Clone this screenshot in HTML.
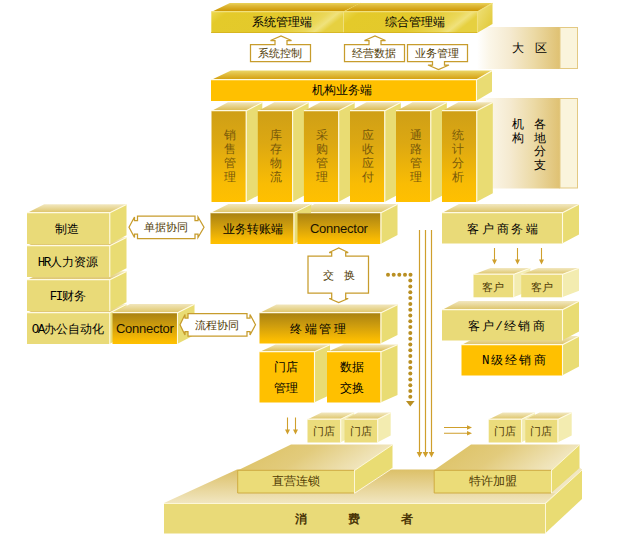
<!DOCTYPE html>
<html><head><meta charset="utf-8"><title>diagram</title>
<style>
html,body{margin:0;padding:0;background:#fff;}
body{width:641px;height:536px;overflow:hidden;font-family:"Liberation Sans",sans-serif;}
svg{display:block;font-family:"Liberation Sans",sans-serif;}
</style></head><body>
<svg width="641" height="536" viewBox="0 0 641 536">
<defs>
<linearGradient id="gBand" x1="0" x2="1" y1="0" y2="0"><stop offset="0" stop-color="#ffffff"/><stop offset="0.15" stop-color="#fbf6e8"/><stop offset="0.4" stop-color="#f5ead0"/><stop offset="0.68" stop-color="#ecdaa6"/><stop offset="1" stop-color="#dfc172"/></linearGradient>
<linearGradient id="gY" x1="0" x2="1" y1="0" y2="0.2"><stop offset="0" stop-color="#ecd84e"/><stop offset="0.12" stop-color="#e4ca2a"/><stop offset="0.62" stop-color="#e3c92c"/><stop offset="0.86" stop-color="#ebd85a"/><stop offset="0.93" stop-color="#f0e27c"/><stop offset="1" stop-color="#e6d040"/></linearGradient>
<linearGradient id="gYS" x1="0" x2="1" y1="0" y2="1"><stop offset="0" stop-color="#efe27e"/><stop offset="1" stop-color="#e0c630"/></linearGradient>
<linearGradient id="gTopGold" x1="0" x2="0" y1="0" y2="1"><stop offset="0" stop-color="#ead45a"/><stop offset="0.3" stop-color="#dfb93a"/><stop offset="0.85" stop-color="#cf9a08"/><stop offset="1" stop-color="#e8c840"/></linearGradient>
<linearGradient id="gTopGold2" x1="0" x2="0" y1="0" y2="1"><stop offset="0" stop-color="#ecd766"/><stop offset="0.35" stop-color="#e2c044"/><stop offset="0.85" stop-color="#d6a416"/><stop offset="1" stop-color="#f2cc40"/></linearGradient>
<linearGradient id="gCol" x1="0" x2="0" y1="0" y2="1"><stop offset="0" stop-color="#cf9f16"/><stop offset="0.35" stop-color="#dca812"/><stop offset="0.8" stop-color="#f9bc04"/><stop offset="1" stop-color="#ffc000"/></linearGradient>
<linearGradient id="gF" x1="0" x2="0" y1="0" y2="1"><stop offset="0" stop-color="#a98211"/><stop offset="0.4" stop-color="#cd9c0e"/><stop offset="0.85" stop-color="#f8ba02"/><stop offset="1" stop-color="#ffc000"/></linearGradient>
<linearGradient id="gT" x1="0" x2="0" y1="0" y2="1"><stop offset="0" stop-color="#f1e6bc"/><stop offset="1" stop-color="#d9b84c"/></linearGradient>
<linearGradient id="gTL" x1="0" x2="0" y1="0" y2="1"><stop offset="0" stop-color="#f1e6bc"/><stop offset="1" stop-color="#dec465"/></linearGradient>
<linearGradient id="gTP" x1="0" x2="0" y1="0" y2="1"><stop offset="0" stop-color="#f2e8c0"/><stop offset="1" stop-color="#dcc264"/></linearGradient>
<linearGradient id="gPlat" x1="0" x2="0" y1="0" y2="1"><stop offset="0" stop-color="#dcc068"/><stop offset="1" stop-color="#f1e6c0"/></linearGradient>
<linearGradient id="gPT" x1="0" x2="1" y1="0" y2="0.25"><stop offset="0" stop-color="#dcc060"/><stop offset="0.5" stop-color="#e2cb7c"/><stop offset="1" stop-color="#f2e8c4"/></linearGradient>
</defs>
<rect x="477" y="27" width="83" height="42" fill="url(#gBand)"/>
<rect x="560" y="27.5" width="17.5" height="41" fill="#faf4dc" stroke="#e3c983" stroke-width="1"/>
<rect x="477" y="98" width="83" height="90.5" fill="url(#gBand)"/>
<rect x="560" y="98.5" width="17.5" height="89.5" fill="#faf4dc" stroke="#e3c983" stroke-width="1"/>
<text y="51.8" font-size="12" fill="#000" text-anchor="middle" font-weight="500"><tspan x="517.8">大</tspan></text>
<text y="51.8" font-size="12" fill="#000" text-anchor="middle" font-weight="500"><tspan x="540.5">区</tspan></text>
<text y="128.4" font-size="12" fill="#000" text-anchor="middle" font-weight="500"><tspan x="518.4">机</tspan></text>
<text y="141.8" font-size="12" fill="#000" text-anchor="middle" font-weight="500"><tspan x="518.4">构</tspan></text>
<text y="128.4" font-size="12" fill="#000" text-anchor="middle" font-weight="500"><tspan x="539.5">各</tspan></text>
<text y="141.9" font-size="12" fill="#000" text-anchor="middle" font-weight="500"><tspan x="539.5">地</tspan></text>
<text y="155.4" font-size="12" fill="#000" text-anchor="middle" font-weight="500"><tspan x="539.5">分</tspan></text>
<text y="168.9" font-size="12" fill="#000" text-anchor="middle" font-weight="500"><tspan x="539.5">支</tspan></text>
<polygon points="211.3,12.0 229.8,3.0 361.0,3.0 343.5,12.0" fill="url(#gTopGold)"/>
<polygon points="343.5,12.0 361.0,3.0 361.0,24.0 343.5,33.0" fill="url(#gYS)"/>
<rect x="211.3" y="12" width="132.2" height="21" fill="url(#gY)"/>
<path d="M211.3 11.6H344.0M344.0 11.5V33M344.0 11.7L361.0 3.3" stroke="#f1e07c" stroke-width="1.1" fill="none"/>
<polygon points="344.0,12.0 360.0,3.0 492.5,3.0 477.0,12.0" fill="url(#gTopGold)"/>
<polygon points="477.0,12.0 492.5,3.0 492.5,24.0 477.0,33.0" fill="url(#gYS)"/>
<rect x="344" y="12" width="133" height="21" fill="url(#gY)"/>
<path d="M344 11.6H477.5M477.5 11.5V33M477.5 11.7L492.5 3.3" stroke="#f1e07c" stroke-width="1.1" fill="none"/>
<path d="M211 32.5H477" stroke="#d2ae1c" stroke-width="1" opacity="0.7"/>
<text y="25.9" font-size="12" fill="#000" text-anchor="middle" font-weight="500"><tspan x="257.5 269.5 281.5 293.5 305.5">系统管理端</tspan></text>
<text y="25.9" font-size="12" fill="#000" text-anchor="middle" font-weight="500"><tspan x="390.7 402.7 414.7 426.7 438.7">综合管理端</tspan></text>
<path d="M250.5 44.5H275V40.5H270.5L281 36L291.5 40.5H287V44.5H310.5V61.5H250.5Z" fill="#fff" stroke="#c79c2c" stroke-width="1.25"/>
<path d="M344.5 44.5H369V40.5H364.5L375 36L385.5 40.5H381V44.5H404.5V61.5H344.5Z" fill="#fff" stroke="#c79c2c" stroke-width="1.25"/>
<path d="M407.5 44.5H467.5V61.5H444.5V65H449.0L438.5 69.5L428.0 65H432.5V61.5H407.5Z" fill="#fff" stroke="#c79c2c" stroke-width="1.25"/>
<text y="57.1" font-size="11" fill="#4f3a04" text-anchor="middle" font-weight="500"><tspan x="263.1 274.1 285.1 296.1">系统控制</tspan></text>
<text y="57.1" font-size="11" fill="#4f3a04" text-anchor="middle" font-weight="500"><tspan x="357.1 368.1 379.1 390.1">经营数据</tspan></text>
<text y="57.1" font-size="11" fill="#4f3a04" text-anchor="middle" font-weight="500"><tspan x="420.1 431.1 442.1 453.1">业务管理</tspan></text>
<polygon points="211.0,80.0 231.0,70.5 492.0,70.5 476.0,80.0" fill="url(#gTopGold2)"/>
<polygon points="476.0,80.0 492.0,70.5 492.0,91.5 476.0,101.0" fill="#e9dc73"/>
<rect x="211" y="80" width="265" height="21" fill="#ffc000"/>
<path d="M211 79.6H476.5M476.5 79.5V101M476.5 79.7L492 70.8" stroke="#fffae2" stroke-width="1.1" fill="none"/>
<text y="94.0" font-size="12" fill="#000" text-anchor="middle" font-weight="500"><tspan x="317.5 329.5 341.5 353.5 365.5">机构业务端</tspan></text>
<polygon points="211.5,111.0 228.0,102.2 262.3,102.2 245.8,111.0" fill="url(#gT)"/>
<polygon points="245.8,111.0 262.3,102.2 262.3,193.2 245.8,202.0" fill="#e9dc73"/>
<rect x="211.5" y="111" width="34.30000000000001" height="91" fill="url(#gCol)"/>
<path d="M211.5 110.6H246.3M246.3 110.5V202M246.3 110.7L262.3 102.5" stroke="#fffae2" stroke-width="1.1" fill="none"/>
<text y="139.1" font-size="12" fill="#78590a" text-anchor="middle" font-weight="500"><tspan x="229.6">销</tspan></text>
<text y="153.2" font-size="12" fill="#78590a" text-anchor="middle" font-weight="500"><tspan x="229.6">售</tspan></text>
<text y="167.2" font-size="12" fill="#78590a" text-anchor="middle" font-weight="500"><tspan x="229.6">管</tspan></text>
<text y="181.4" font-size="12" fill="#78590a" text-anchor="middle" font-weight="500"><tspan x="229.6">理</tspan></text>
<polygon points="257.8,111.0 274.3,102.2 308.6,102.2 292.1,111.0" fill="url(#gT)"/>
<polygon points="292.1,111.0 308.6,102.2 308.6,193.2 292.1,202.0" fill="#e9dc73"/>
<rect x="257.8" y="111" width="34.30000000000001" height="91" fill="url(#gCol)"/>
<path d="M257.8 110.6H292.6M292.6 110.5V202M292.6 110.7L308.6 102.5" stroke="#fffae2" stroke-width="1.1" fill="none"/>
<text y="139.1" font-size="12" fill="#78590a" text-anchor="middle" font-weight="500"><tspan x="276.4">库</tspan></text>
<text y="153.2" font-size="12" fill="#78590a" text-anchor="middle" font-weight="500"><tspan x="276.4">存</tspan></text>
<text y="167.2" font-size="12" fill="#78590a" text-anchor="middle" font-weight="500"><tspan x="276.4">物</tspan></text>
<text y="181.4" font-size="12" fill="#78590a" text-anchor="middle" font-weight="500"><tspan x="276.4">流</tspan></text>
<polygon points="303.9,111.0 320.4,102.2 354.7,102.2 338.2,111.0" fill="url(#gT)"/>
<polygon points="338.2,111.0 354.7,102.2 354.7,193.2 338.2,202.0" fill="#e9dc73"/>
<rect x="303.9" y="111" width="34.30000000000001" height="91" fill="url(#gCol)"/>
<path d="M303.9 110.6H338.7M338.7 110.5V202M338.7 110.7L354.7 102.5" stroke="#fffae2" stroke-width="1.1" fill="none"/>
<text y="139.1" font-size="12" fill="#78590a" text-anchor="middle" font-weight="500"><tspan x="322.3">采</tspan></text>
<text y="153.2" font-size="12" fill="#78590a" text-anchor="middle" font-weight="500"><tspan x="322.3">购</tspan></text>
<text y="167.2" font-size="12" fill="#78590a" text-anchor="middle" font-weight="500"><tspan x="322.3">管</tspan></text>
<text y="181.4" font-size="12" fill="#78590a" text-anchor="middle" font-weight="500"><tspan x="322.3">理</tspan></text>
<polygon points="350.0,111.0 366.5,102.2 400.8,102.2 384.3,111.0" fill="url(#gT)"/>
<polygon points="384.3,111.0 400.8,102.2 400.8,193.2 384.3,202.0" fill="#e9dc73"/>
<rect x="350" y="111" width="34.30000000000001" height="91" fill="url(#gCol)"/>
<path d="M350 110.6H384.8M384.8 110.5V202M384.8 110.7L400.8 102.5" stroke="#fffae2" stroke-width="1.1" fill="none"/>
<text y="139.1" font-size="12" fill="#78590a" text-anchor="middle" font-weight="500"><tspan x="367.6">应</tspan></text>
<text y="153.2" font-size="12" fill="#78590a" text-anchor="middle" font-weight="500"><tspan x="367.6">收</tspan></text>
<text y="167.2" font-size="12" fill="#78590a" text-anchor="middle" font-weight="500"><tspan x="367.6">应</tspan></text>
<text y="181.4" font-size="12" fill="#78590a" text-anchor="middle" font-weight="500"><tspan x="367.6">付</tspan></text>
<polygon points="396.0,111.0 412.5,102.2 446.8,102.2 430.3,111.0" fill="url(#gT)"/>
<polygon points="430.3,111.0 446.8,102.2 446.8,193.2 430.3,202.0" fill="#e9dc73"/>
<rect x="396" y="111" width="34.30000000000001" height="91" fill="url(#gCol)"/>
<path d="M396 110.6H430.8M430.8 110.5V202M430.8 110.7L446.8 102.5" stroke="#fffae2" stroke-width="1.1" fill="none"/>
<text y="139.1" font-size="12" fill="#78590a" text-anchor="middle" font-weight="500"><tspan x="415.5">通</tspan></text>
<text y="153.2" font-size="12" fill="#78590a" text-anchor="middle" font-weight="500"><tspan x="415.5">路</tspan></text>
<text y="167.2" font-size="12" fill="#78590a" text-anchor="middle" font-weight="500"><tspan x="415.5">管</tspan></text>
<text y="181.4" font-size="12" fill="#78590a" text-anchor="middle" font-weight="500"><tspan x="415.5">理</tspan></text>
<polygon points="442.0,111.0 458.5,102.2 492.8,102.2 476.3,111.0" fill="url(#gT)"/>
<polygon points="476.3,111.0 492.8,102.2 492.8,193.2 476.3,202.0" fill="#e9dc73"/>
<rect x="442" y="111" width="34.30000000000001" height="91" fill="url(#gCol)"/>
<path d="M442 110.6H476.8M476.8 110.5V202M476.8 110.7L492.8 102.5" stroke="#fffae2" stroke-width="1.1" fill="none"/>
<text y="139.1" font-size="12" fill="#78590a" text-anchor="middle" font-weight="500"><tspan x="457.5">统</tspan></text>
<text y="153.2" font-size="12" fill="#78590a" text-anchor="middle" font-weight="500"><tspan x="457.5">计</tspan></text>
<text y="167.2" font-size="12" fill="#78590a" text-anchor="middle" font-weight="500"><tspan x="457.5">分</tspan></text>
<text y="181.4" font-size="12" fill="#78590a" text-anchor="middle" font-weight="500"><tspan x="457.5">析</tspan></text>
<polygon points="210.5,213.0 228.5,204.0 311.5,204.0 293.5,213.0" fill="url(#gTL)"/>
<polygon points="293.5,213.0 311.5,204.0 311.5,235.0 293.5,244.0" fill="#e9dc73"/>
<rect x="210.5" y="213" width="83.0" height="31" fill="url(#gF)"/>
<path d="M210.5 212.6H294.0M294.0 212.5V244M294.0 212.7L311.5 204.3" stroke="#fffae2" stroke-width="1.1" fill="none"/>
<polygon points="297.5,213.0 314.5,204.0 397.5,204.0 380.5,213.0" fill="url(#gTL)"/>
<polygon points="380.5,213.0 397.5,204.0 397.5,235.0 380.5,244.0" fill="#e9dc73"/>
<rect x="297.5" y="213" width="83.0" height="31" fill="url(#gF)"/>
<path d="M297.5 212.6H381.0M381.0 212.5V244M381.0 212.7L397.5 204.3" stroke="#fffae2" stroke-width="1.1" fill="none"/>
<polygon points="293.5,213 311,204.3 311,213" fill="#e9dc73"/>
<path d="M294 212.7L311 204.4" stroke="#fffae2" stroke-width="1" opacity="0.9"/>
<text y="233.4" font-size="12" fill="#000" text-anchor="middle" font-weight="500"><tspan x="228.8 240.8 252.8 264.8 276.8">业务转账端</tspan></text>
<text x="338.85" y="233.2" font-size="13" fill="#1a1200" text-anchor="middle" letter-spacing="-0.25">Connector</text>
<polygon points="27.0,313.0 44.2,304.2 126.5,304.2 109.3,313.0" fill="url(#gTP)"/>
<polygon points="109.3,313.0 126.5,304.2 126.5,335.2 109.3,344.0" fill="#e9dc73"/>
<rect x="27" y="313" width="82.3" height="31" fill="#e9da78"/>
<path d="M27 312.6H109.8M109.8 312.5V344M109.8 312.7L126.5 304.5" stroke="#fffae2" stroke-width="1.1" fill="none"/>
<polygon points="27.0,280.0 44.2,271.2 126.5,271.2 109.3,280.0" fill="url(#gTP)"/>
<polygon points="109.3,280.0 126.5,271.2 126.5,302.2 109.3,311.0" fill="#e9dc73"/>
<rect x="27" y="280" width="82.3" height="31" fill="#e9da78"/>
<path d="M27 279.6H109.8M109.8 279.5V311M109.8 279.7L126.5 271.5" stroke="#fffae2" stroke-width="1.1" fill="none"/>
<polygon points="27.0,246.0 44.2,237.2 126.5,237.2 109.3,246.0" fill="url(#gTP)"/>
<polygon points="109.3,246.0 126.5,237.2 126.5,268.2 109.3,277.0" fill="#e9dc73"/>
<rect x="27" y="246" width="82.3" height="31" fill="#e9da78"/>
<path d="M27 245.6H109.8M109.8 245.5V277M109.8 245.7L126.5 237.5" stroke="#fffae2" stroke-width="1.1" fill="none"/>
<polygon points="27.0,213.0 44.2,204.2 126.5,204.2 109.3,213.0" fill="url(#gTP)"/>
<polygon points="109.3,213.0 126.5,204.2 126.5,235.2 109.3,244.0" fill="#e9dc73"/>
<rect x="27" y="213" width="82.3" height="31" fill="#e9da78"/>
<path d="M27 212.6H109.8M109.8 212.5V244M109.8 212.7L126.5 204.5" stroke="#fffae2" stroke-width="1.1" fill="none"/>
<text y="233.2" font-size="12" fill="#000" text-anchor="middle" font-weight="500"><tspan x="60.8 72.8">制造</tspan></text>
<text y="265.9" font-size="12" fill="#000" text-anchor="middle" font-weight="500"><tspan x="41.4 47.4" font-family="Liberation Mono" font-size="12.5">HR</tspan><tspan x="56.4 68.4 80.4 92.4">人力资源</tspan></text>
<text y="299.9" font-size="12" fill="#000" text-anchor="middle" font-weight="500"><tspan x="53.4 59.4" font-family="Liberation Mono" font-size="12.5">FI</tspan><tspan x="68.4 80.4">财务</tspan></text>
<text y="333.4" font-size="12" fill="#000" text-anchor="middle" font-weight="500"><tspan x="35.4 41.4" font-family="Liberation Mono" font-size="12.5">OA</tspan><tspan x="50.4 62.4 74.4 86.4 98.4">办公自动化</tspan></text>
<polygon points="112.5,313.0 130.0,304.0 194.5,304.0 177.0,313.0" fill="url(#gTL)"/>
<polygon points="177.0,313.0 194.5,304.0 194.5,335.0 177.0,344.0" fill="#e9dc73"/>
<rect x="112.5" y="313" width="64.5" height="31" fill="url(#gF)"/>
<path d="M112.5 312.6H177.5M177.5 312.5V344M177.5 312.7L194.5 304.3" stroke="#fffae2" stroke-width="1.1" fill="none"/>
<text x="144.75" y="333.4" font-size="13" fill="#1a1200" text-anchor="middle" letter-spacing="-0.25">Connector</text>
<path d="M137.5 216H195V220.5H198V217L204 227.25L198 237.5V234.0H195V238.5H137.5V234.0H134.5V237.5L129 227.25L134.5 217V220.5H137.5Z" fill="#fff" stroke="#c79c2c" stroke-width="1.25"/>
<text y="230.9" font-size="11" fill="#4f3a04" text-anchor="middle" font-weight="500"><tspan x="149.7 160.7 171.7 182.7">单据协同</tspan></text>
<path d="M188 313.5H247V318.0H250V314.5L255.5 324.75L250 335V331.5H247V336H188V331.5H185V335L180 324.75L185 314.5V318.0H188Z" fill="#fff" stroke="#c79c2c" stroke-width="1.25"/>
<text y="328.5" font-size="11" fill="#4f3a04" text-anchor="middle" font-weight="500"><tspan x="200.6 211.6 222.6 233.6">流程协同</tspan></text>
<path d="M308 256H331.7V252.5H329.2L338.7 248L348.2 252.5H345.7V256H368.5V293H345.7V298.5H348.2L338.7 302.5L329.2 298.5H331.7V293H308Z" fill="#fff" stroke="#c79c2c" stroke-width="1.25"/>
<text y="278.9" font-size="11" fill="#4f3a04" text-anchor="middle" font-weight="500"><tspan x="328.8">交</tspan></text>
<text y="278.9" font-size="11" fill="#4f3a04" text-anchor="middle" font-weight="500"><tspan x="349.0">换</tspan></text>
<path d="M419.5 230V453M425.5 230V453M431.5 230V453" stroke="#cf9f2c" stroke-width="1.2" fill="none"/>
<polygon points="416.7,452 422.3,452 419.5,457.5" fill="#cf9f2c"/>
<polygon points="422.7,452 428.3,452 425.5,457.5" fill="#cf9f2c"/>
<polygon points="428.7,452 434.3,452 431.5,457.5" fill="#cf9f2c"/>
<circle cx="388" cy="274.8" r="2" fill="#b98f22"/>
<circle cx="393.7" cy="274.8" r="2" fill="#b98f22"/>
<circle cx="399.3" cy="274.8" r="2" fill="#b98f22"/>
<circle cx="405" cy="274.8" r="2" fill="#b98f22"/>
<circle cx="410.5" cy="274.8" r="2" fill="#b98f22"/>
<circle cx="410.3" cy="280.6" r="2" fill="#b98f22"/>
<circle cx="410.3" cy="286.4" r="2" fill="#b98f22"/>
<circle cx="410.3" cy="292.2" r="2" fill="#b98f22"/>
<circle cx="410.3" cy="298.0" r="2" fill="#b98f22"/>
<circle cx="410.3" cy="303.9" r="2" fill="#b98f22"/>
<circle cx="410.3" cy="309.7" r="2" fill="#b98f22"/>
<circle cx="410.3" cy="315.5" r="2" fill="#b98f22"/>
<circle cx="410.3" cy="321.3" r="2" fill="#b98f22"/>
<circle cx="410.3" cy="327.1" r="2" fill="#b98f22"/>
<circle cx="410.3" cy="332.9" r="2" fill="#b98f22"/>
<circle cx="410.3" cy="338.7" r="2" fill="#b98f22"/>
<circle cx="410.3" cy="344.5" r="2" fill="#b98f22"/>
<circle cx="410.3" cy="350.3" r="2" fill="#b98f22"/>
<circle cx="410.3" cy="356.1" r="2" fill="#b98f22"/>
<circle cx="410.3" cy="361.9" r="2" fill="#b98f22"/>
<circle cx="410.3" cy="367.8" r="2" fill="#b98f22"/>
<circle cx="410.3" cy="373.6" r="2" fill="#b98f22"/>
<circle cx="410.3" cy="379.4" r="2" fill="#b98f22"/>
<circle cx="410.3" cy="385.2" r="2" fill="#b98f22"/>
<circle cx="410.3" cy="391.0" r="2" fill="#b98f22"/>
<circle cx="410.3" cy="396.8" r="2" fill="#b98f22"/>
<polygon points="406,401 414.6,401 410.3,406.5" fill="#b98f22"/>
<polygon points="259.5,313.0 276.5,304.5 397.5,304.5 380.5,313.0" fill="url(#gTL)"/>
<polygon points="380.5,313.0 397.5,304.5 397.5,335.0 380.5,343.5" fill="#e9dc73"/>
<rect x="259.5" y="313" width="121.0" height="30.5" fill="url(#gF)"/>
<path d="M259.5 312.6H381.0M381.0 312.5V343.5M381.0 312.7L397.5 304.8" stroke="#fffae2" stroke-width="1.1" fill="none"/>
<text y="332.7" font-size="12" fill="#000" text-anchor="middle" font-weight="500"><tspan x="296.0 310.6 325.2 339.8">终端管理</tspan></text>
<polygon points="259.5,352.0 275.5,344.5 330.0,344.5 314.0,352.0" fill="url(#gT)"/>
<polygon points="314.0,352.0 330.0,344.5 330.0,395.0 314.0,402.5" fill="#e9dc73"/>
<rect x="259.5" y="352" width="54.5" height="50.5" fill="#ffc000"/>
<path d="M259.5 351.6H314.5M314.5 351.5V402.5M314.5 351.7L330 344.8" stroke="#fffae2" stroke-width="1.1" fill="none"/>
<polygon points="327.0,352.0 344.0,344.5 397.5,344.5 380.5,352.0" fill="url(#gT)"/>
<polygon points="380.5,352.0 397.5,344.5 397.5,395.0 380.5,402.5" fill="#e9dc73"/>
<rect x="327" y="352" width="53.5" height="50.5" fill="#ffc000"/>
<path d="M327 351.6H381.0M381.0 351.5V402.5M381.0 351.7L397.5 344.8" stroke="#fffae2" stroke-width="1.1" fill="none"/>
<text y="370.7" font-size="12" fill="#000" text-anchor="middle" font-weight="500"><tspan x="279.6 291.6">门店</tspan></text>
<text y="391.9" font-size="12" fill="#000" text-anchor="middle" font-weight="500"><tspan x="279.6 291.6">管理</tspan></text>
<text y="370.7" font-size="12" fill="#000" text-anchor="middle" font-weight="500"><tspan x="346.2 358.2">数据</tspan></text>
<text y="391.9" font-size="12" fill="#000" text-anchor="middle" font-weight="500"><tspan x="346.2 358.2">交换</tspan></text>
<path d="M287.5 417.5V431M295.5 417.5V431" stroke="#cf9f2c" stroke-width="1.1" fill="none"/>
<polygon points="285.0,429.5 290.0,429.5 287.5,434.5" fill="#cf9f2c"/>
<polygon points="293.0,429.5 298.0,429.5 295.5,434.5" fill="#cf9f2c"/>
<polygon points="307.5,419.5 321.5,412.5 354.2,412.5 340.2,419.5" fill="url(#gTP)"/>
<polygon points="340.2,419.5 354.2,412.5 354.2,435.5 340.2,442.5" fill="#f3ecb0"/>
<rect x="307.5" y="419.5" width="32.69999999999999" height="23.0" fill="#ebdc7c"/>
<path d="M307.5 419.1H340.7M340.7 419.0V442.5M340.7 419.2L354.2 412.8" stroke="#fffae2" stroke-width="1.1" fill="none"/>
<polygon points="344.5,419.5 358.0,412.5 390.7,412.5 377.2,419.5" fill="url(#gTP)"/>
<polygon points="377.2,419.5 390.7,412.5 390.7,435.5 377.2,442.5" fill="#f3ecb0"/>
<rect x="344.5" y="419.5" width="32.69999999999999" height="23.0" fill="#ebdc7c"/>
<path d="M344.5 419.1H377.7M377.7 419.0V442.5M377.7 419.2L390.7 412.8" stroke="#fffae2" stroke-width="1.1" fill="none"/>
<text y="434.8" font-size="11" fill="#4f3a04" text-anchor="middle" font-weight="500"><tspan x="318.7 329.7">门店</tspan></text>
<text y="434.8" font-size="11" fill="#4f3a04" text-anchor="middle" font-weight="500"><tspan x="355.0 366.0">门店</tspan></text>
<polygon points="488.7,419.5 502.7,412.5 535.0,412.5 521.0,419.5" fill="url(#gTP)"/>
<polygon points="521.0,419.5 535.0,412.5 535.0,435.5 521.0,442.5" fill="#f3ecb0"/>
<rect x="488.7" y="419.5" width="32.30000000000001" height="23.0" fill="#ebdc7c"/>
<path d="M488.7 419.1H521.5M521.5 419.0V442.5M521.5 419.2L535 412.8" stroke="#fffae2" stroke-width="1.1" fill="none"/>
<polygon points="525.3,419.5 539.5,412.5 571.7,412.5 557.5,419.5" fill="url(#gTP)"/>
<polygon points="557.5,419.5 571.7,412.5 571.7,435.5 557.5,442.5" fill="#f3ecb0"/>
<rect x="525.3" y="419.5" width="32.200000000000045" height="23.0" fill="#ebdc7c"/>
<path d="M525.3 419.1H558.0M558.0 419.0V442.5M558.0 419.2L571.7 412.8" stroke="#fffae2" stroke-width="1.1" fill="none"/>
<text y="434.9" font-size="11" fill="#4f3a04" text-anchor="middle" font-weight="500"><tspan x="499.8 510.8">门店</tspan></text>
<text y="434.9" font-size="11" fill="#4f3a04" text-anchor="middle" font-weight="500"><tspan x="535.8 546.8">门店</tspan></text>
<path d="M444 427.5H468M444 433.3H468" stroke="#cf9f2c" stroke-width="1.1" fill="none"/>
<polygon points="467,425.2 467,429.8 472,427.5" fill="#cf9f2c"/>
<polygon points="467,431.0 467,435.6 472,433.3" fill="#cf9f2c"/>
<polygon points="442.0,213.0 459.0,204.0 579.0,204.0 562.0,213.0" fill="url(#gTP)"/>
<polygon points="562.0,213.0 579.0,204.0 579.0,234.5 562.0,243.5" fill="#e9dc73"/>
<rect x="442" y="213" width="120" height="30.5" fill="#e9da78"/>
<path d="M442 212.6H562.5M562.5 212.5V243.5M562.5 212.7L579 204.3" stroke="#fffae2" stroke-width="1.1" fill="none"/>
<text y="232.9" font-size="12" fill="#000" text-anchor="middle" font-weight="500"><tspan x="473.4 488.0 502.6 517.2 531.8">客户商务端</tspan></text>
<path d="M494.5 248V261" stroke="#cf9f2c" stroke-width="1.1"/>
<polygon points="492.0,259.5 497.0,259.5 494.5,264.5" fill="#cf9f2c"/>
<path d="M517.5 248V261" stroke="#cf9f2c" stroke-width="1.1"/>
<polygon points="515.0,259.5 520.0,259.5 517.5,264.5" fill="#cf9f2c"/>
<path d="M541.5 248V261" stroke="#cf9f2c" stroke-width="1.1"/>
<polygon points="539.0,259.5 544.0,259.5 541.5,264.5" fill="#cf9f2c"/>
<polygon points="473.5,274.5 490.5,268.0 530.3,268.0 513.3,274.5" fill="url(#gTP)"/>
<polygon points="513.3,274.5 530.3,268.0 530.3,290.8 513.3,297.3" fill="#f3ecb0"/>
<rect x="473.5" y="274.5" width="39.799999999999955" height="22.80000000000001" fill="#ebdc7c"/>
<path d="M473.5 274.1H513.8M513.8 274.0V297.3M513.8 274.2L530.3 268.3" stroke="#fffae2" stroke-width="1.1" fill="none"/>
<polygon points="521.2,274.5 538.2,268.0 579.0,268.0 562.0,274.5" fill="url(#gTP)"/>
<polygon points="562.0,274.5 579.0,268.0 579.0,290.8 562.0,297.3" fill="#f3ecb0"/>
<rect x="521.2" y="274.5" width="40.799999999999955" height="22.80000000000001" fill="#ebdc7c"/>
<path d="M521.2 274.1H562.5M562.5 274.0V297.3M562.5 274.2L579 268.3" stroke="#fffae2" stroke-width="1.1" fill="none"/>
<text y="291.1" font-size="11" fill="#4f3a04" text-anchor="middle" font-weight="500"><tspan x="487.6 498.6">客户</tspan></text>
<text y="291.1" font-size="11" fill="#4f3a04" text-anchor="middle" font-weight="500"><tspan x="536.6 547.6">客户</tspan></text>
<polygon points="461.5,345.0 478.5,336.0 579.0,336.0 562.0,345.0" fill="url(#gTP)"/>
<polygon points="562.0,345.0 579.0,336.0 579.0,366.5 562.0,375.5" fill="#e9dc73"/>
<rect x="461.5" y="345" width="100.5" height="30.5" fill="#ffc000"/>
<path d="M461.5 344.6H562.5M562.5 344.5V375.5M562.5 344.7L579 336.3" stroke="#fffae2" stroke-width="1.1" fill="none"/>
<text y="363.9" font-size="12" fill="#000" text-anchor="middle" font-weight="500"><tspan x="485.8" font-family="Liberation Mono" font-size="12.5">N</tspan><tspan x="496.6 511.0 525.4 539.8">级经销商</tspan></text>
<polygon points="442.0,310.0 459.0,301.0 579.0,301.0 562.0,310.0" fill="url(#gTP)"/>
<polygon points="562.0,310.0 579.0,301.0 579.0,331.5 562.0,340.5" fill="#e9dc73"/>
<rect x="442" y="310" width="120" height="30.5" fill="#e9da78"/>
<path d="M442 309.6H562.5M562.5 309.5V340.5M562.5 309.7L579 301.3" stroke="#fffae2" stroke-width="1.1" fill="none"/>
<text y="329.9" font-size="12" fill="#000" text-anchor="middle" font-weight="500"><tspan x="473.8 488.2">客户</tspan><tspan x="499.0" font-family="Liberation Mono" font-size="12.5">/</tspan><tspan x="509.8 524.2 538.6">经销商</tspan></text>
<polygon points="164,503 237,469.5 582,469.5 545,503" fill="url(#gPlat)"/>
<polygon points="545,503.5 582,469.5 582,499 545,533.5" fill="#e9dc73"/>
<polygon points="551,493 579.5,467.5 582,469.5 556,493.5" fill="#f1e7c2"/>
<rect x="164" y="503" width="381" height="30.5" fill="#e9da78"/>
<path d="M164 503.5H545M545.5 503V533M545.5 503.5L582 470" stroke="#fffae2" stroke-width="1" fill="none" opacity="0.9"/>
<polygon points="237.5,470.5 291,444.5 392.5,444.5 354,470.5" fill="url(#gPT)"/>
<polygon points="354,470.5 392.5,444.5 392.5,468 354,493" fill="#e9dc73"/>
<rect x="237.5" y="470.5" width="116.5" height="22.5" fill="#ebdc78"/>
<path d="M354 470.3H237.7V493H354" stroke="#cfac42" stroke-width="1" fill="none"/>
<path d="M354.5 470V493M354.5 470.5L392.5 444.8M354.5 493.3L392.5 468.3" stroke="#fffae2" stroke-width="1" fill="none" opacity="0.9"/>
<text y="484.9" font-size="12" fill="#4f3a04" text-anchor="middle" font-weight="500"><tspan x="278.2 290.2 302.2 314.2">直营连锁</tspan></text>
<polygon points="433.7,470.5 471,444.5 579.5,444.5 551,470.5" fill="url(#gPT)"/>
<polygon points="551,470.5 579.5,444.5 579.5,468 551,493" fill="#e9dc73"/>
<rect x="434" y="470.5" width="117" height="22.5" fill="#ebdc78"/>
<path d="M551 470.3H434.2V493H551" stroke="#cfac42" stroke-width="1" fill="none"/>
<path d="M551.5 470V493M551.5 470.5L579.5 444.8" stroke="#fffae2" stroke-width="1" fill="none" opacity="0.9"/>
<text y="485.1" font-size="12" fill="#4f3a04" text-anchor="middle" font-weight="500"><tspan x="475.1 487.1 499.1 511.1">特许加盟</tspan></text>
<text y="522.7" font-size="12" fill="#4a3506" text-anchor="middle" font-weight="bold"><tspan x="301.2">消</tspan></text>
<text y="522.7" font-size="12" fill="#4a3506" text-anchor="middle" font-weight="bold"><tspan x="354.0">费</tspan></text>
<text y="522.7" font-size="12" fill="#4a3506" text-anchor="middle" font-weight="bold"><tspan x="406.6">者</tspan></text>
</svg>
</body></html>
